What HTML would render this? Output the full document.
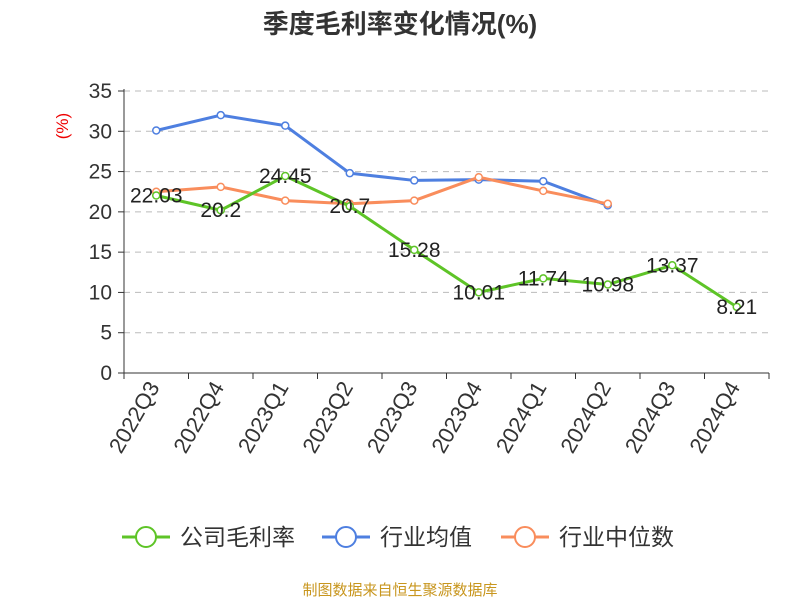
<!DOCTYPE html>
<html><head><meta charset="utf-8"><style>
body{margin:0;background:#fff;font-family:"Liberation Sans","Noto Sans CJK SC",sans-serif;}
</style></head><body>
<svg id="c" width="800" height="600" xmlns="http://www.w3.org/2000/svg" font-family="Liberation Sans, Noto Sans CJK SC, sans-serif">
<text x="400" y="33" text-anchor="middle" font-size="26" font-weight="bold" fill="#333">季度毛利率变化情况(%)</text>
<text x="68" y="126" font-size="17" fill="#e00" transform="rotate(-90 68 126)" text-anchor="middle">(%)</text>
<g id="grid"></g><g id="axes"></g><g id="series"></g><g id="labels"></g>
<g id="legend"></g>
<text x="400" y="595" text-anchor="middle" font-size="15" fill="#c8961e">制图数据来自恒生聚源数据库</text>
</svg>
<script>
const categories=["2022Q3","2022Q4","2023Q1","2023Q2","2023Q3","2023Q4","2024Q1","2024Q2","2024Q3","2024Q4"];
const companyValues=[22.03,20.2,24.45,20.7,15.28,10.01,11.74,10.98,13.37,8.21];
const industryAvg=[30.1,32.0,30.7,24.8,23.9,24.0,23.8,20.8];
const industryMedian=[22.5,23.1,21.4,21.0,21.4,24.3,22.6,21.0];
const yTicks=[0,5,10,15,20,25,30,35];
const NS="http://www.w3.org/2000/svg";
const L=124,R=769,T=91,B=373,ymax=35;
const bw=(R-L)/categories.length;
const xs=i=>L+bw*(i+0.5), ys=v=>B-(v/ymax)*(B-T);
function mk(p,tag,a,txt){const e=document.createElementNS(NS,tag);for(const k in a)e.setAttribute(k,a[k]);if(txt!==undefined)e.textContent=txt;document.getElementById(p).appendChild(e);return e;}
yTicks.forEach(t=>{
 if(t>0){const g=mk('grid','line',{x1:L,x2:R,y1:ys(t),y2:ys(t),stroke:'#bbb','stroke-dasharray':'6,5'});
 }
 const tl=mk('axes','line',{x1:L-6,x2:L,y1:ys(t),y2:ys(t),stroke:'#333'});
 
 const tx=mk('axes','text',{x:L-12,y:ys(t)+7,'text-anchor':'end','font-size':21,fill:'#333'},t);
 
});
let a=mk('axes','line',{x1:L,x2:L,y1:T-2,y2:B,stroke:'#333'});
a=mk('axes','line',{x1:L,x2:R,y1:B,y2:B,stroke:'#333'});
for(let i=0;i<=categories.length;i++){const t=mk('axes','line',{x1:L+bw*i,x2:L+bw*i,y1:B,y2:B+6,stroke:'#333'});}
categories.forEach((c,i)=>{const x=xs(i)+4,y=B+14;
 const t=mk('axes','text',{x:x,y:y,'text-anchor':'end','font-size':22,fill:'#333',transform:`rotate(-60 ${x} ${y})`},c);
 });
function series(vals,color,name){
 const pts=vals.map((v,i)=>xs(i)+','+ys(v)).join(' ');
 const pl=mk('series','polyline',{points:pts,fill:'none',stroke:color,'stroke-width':3});
 
 vals.forEach((v,i)=>{const c=mk('series','circle',{cx:xs(i),cy:ys(v),r:3.5,fill:'#fff',stroke:color,'stroke-width':1.5});
 });
}
series(industryAvg,'#4e7fe0','industry-average');
series(industryMedian,'#f98d5c','industry-median');
series(companyValues,'#5ec427','company');
companyValues.forEach((v,i)=>{const t=mk('labels','text',{x:xs(i),y:ys(v)+7,'text-anchor':'middle','font-size':21,fill:'#222'},String(v));
 });
const legend=[["公司毛利率",'#5ec427',122],["行业均值",'#4e7fe0',322],["行业中位数",'#f98d5c',501]];
legend.forEach(([n,c,x])=>{
 const g=mk('legend','g',{});
 const l=document.createElementNS(NS,'line');[['x1',x],['x2',x+48],['y1',537],['y2',537],['stroke',c],['stroke-width',3]].forEach(p=>l.setAttribute(p[0],p[1]));g.appendChild(l);
 const ci=document.createElementNS(NS,'circle');[['cx',x+24],['cy',537],['r',10],['fill','#fff'],['stroke',c],['stroke-width',2]].forEach(p=>ci.setAttribute(p[0],p[1]));g.appendChild(ci);
 const t=document.createElementNS(NS,'text');[['x',x+58],['y',545],['font-size',23],['fill','#333']].forEach(p=>t.setAttribute(p[0],p[1]));t.textContent=n;g.appendChild(t);
});
</script>
</body></html>
